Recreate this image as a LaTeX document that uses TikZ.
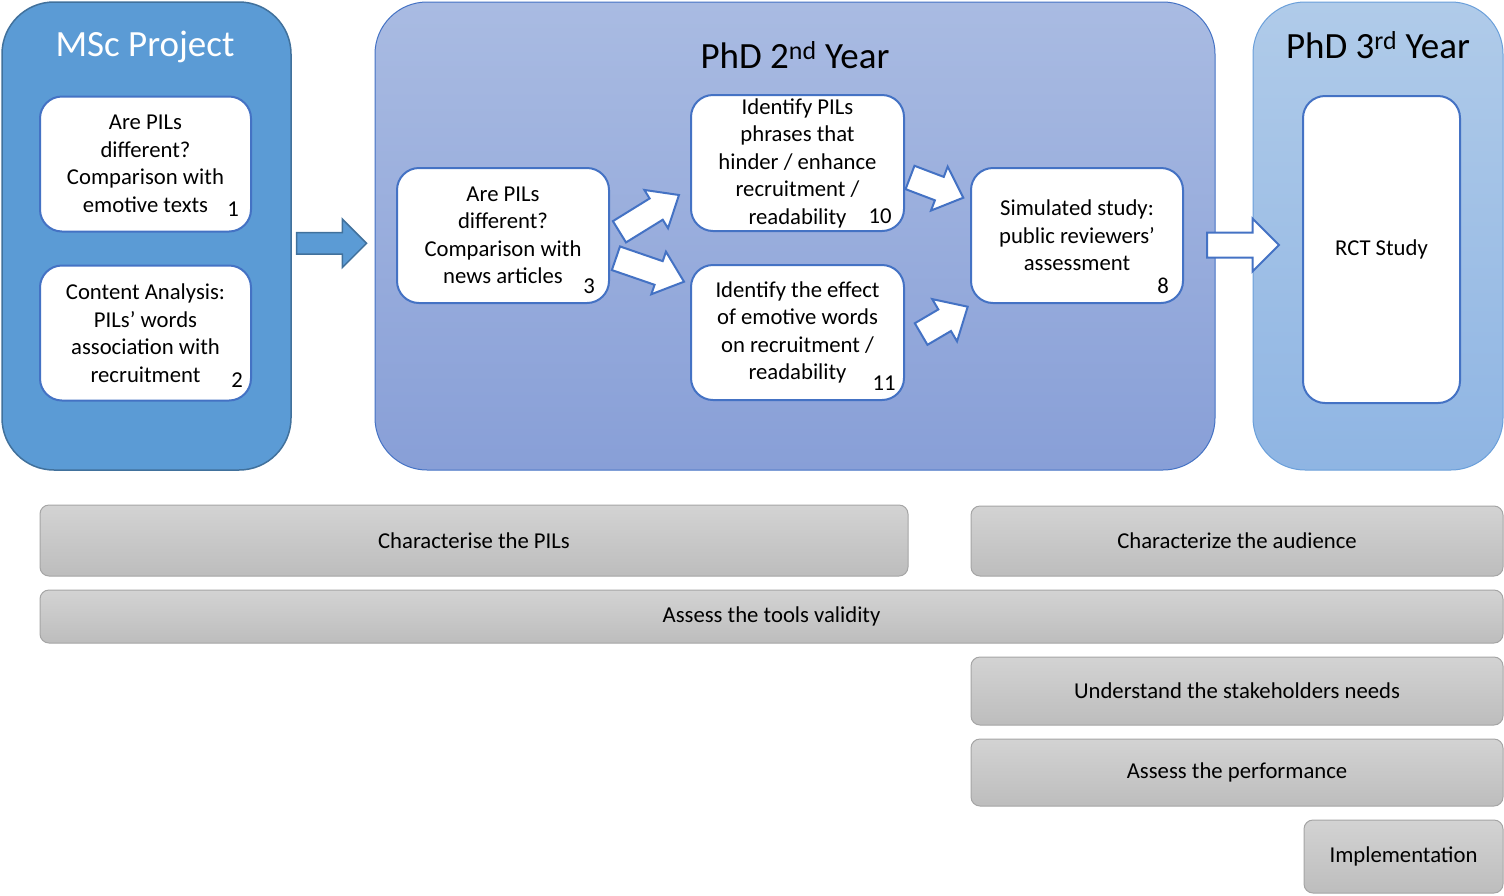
\documentclass[tikz,border=0pt]{standalone}
\usepackage{fontspec}
\setmainfont{Carlito}
\usepackage{xcolor}
\usetikzlibrary{shapes.arrows,positioning}

\definecolor{mscfill}{HTML}{5B9BD5}
\definecolor{mscline}{HTML}{41719C}
\definecolor{boxline}{HTML}{4472C4}
\definecolor{phdtop}{HTML}{A9BBE2}
\definecolor{phdbot}{HTML}{889FD7}
\definecolor{rcttop}{HTML}{B0CBE9}
\definecolor{rctbot}{HTML}{8FB5E3}
\definecolor{rctline}{HTML}{6A9FDA}
\definecolor{goaltop}{HTML}{D3D3D3}
\definecolor{goalbot}{HTML}{BDBDBD}
\definecolor{goalline}{HTML}{A5A5A5}

\begin{document}
\begin{tikzpicture}[
  x=1pt, y=1pt,
  font=\fontsize{22.7}{27.5}\selectfont,
  phase/.style={rounded corners=52pt, line width=1.5pt, inner sep=0pt, outer sep=0pt},
  task/.style={rounded corners=22pt, draw=boxline, fill=white, line width=2pt, align=center, inner sep=0pt, minimum width=211pt, minimum height=135pt},
  num/.style={inner sep=0pt},
  ttl/.style={font=\fontsize{37}{44}\selectfont, inner sep=0pt},
  goal/.style={rounded corners=9pt, draw=goalline, line width=1pt, top color=goaltop, bottom color=goalbot, inner sep=0pt, minimum height=#1},
  fat/.style={single arrow, draw=mscline, fill=mscfill, line width=1.5pt, inner sep=0pt, outer sep=0pt},
  wfat/.style={single arrow, draw=boxline, fill=white, line width=2pt, inner sep=0pt, outer sep=0pt},
]
\useasboundingbox (0,0) rectangle (1504,-895);

% MSc project
\node[phase, draw=mscline, fill=mscfill, minimum width=289pt, minimum height=468pt] (msc) at (146.5,-236) {};
\node[ttl, text=white] (msct) at (145,-47) {MSc Project};
\node[task] (t1) at (145.5,-164) {Are PILs\\different?\\Comparison with\\emotive texts};
\node[num] (n1) at (233,-209) {1};
\node[task] (t2) at (145.5,-333) {Content Analysis:\\PILs’ words\\association with\\recruitment};
\node[num] (n2) at (237,-380) {2};

% PhD 2nd year
\node[phase, draw=boxline, line width=1pt, top color=phdtop, bottom color=phdbot, minimum width=840pt, minimum height=468pt] (phd2) at (795,-236) {};
\node[ttl] (phd2t) at (795,-55) {PhD 2\textsuperscript{nd} Year};
\node[task, minimum width=212pt] (t3) at (503,-235.5) {Are PILs\\different?\\Comparison with\\news articles};
\node[num] (n3) at (589,-286) {3};
\node[task, minimum width=213pt, minimum height=136pt] (t10) at (797.5,-163) {Identify PILs\\phrases that\\hinder / enhance\\recruitment /\\readability};
\node[num] (n10) at (880,-216) {10};
\node[task, minimum width=213pt] (t11) at (797.5,-332.5) {Identify the effect\\of emotive words\\on recruitment /\\readability};
\node[num] (n11) at (884,-383) {11};
\node[task, minimum width=212pt] (t8) at (1077,-235.5) {Simulated study:\\public reviewers’\\assessment};
\node[num] (n8) at (1163,-286) {8};

% PhD 3rd year
\node[phase, draw=rctline, line width=1pt, top color=rcttop, bottom color=rctbot, minimum width=250pt, minimum height=468pt] (phd3) at (1378,-236) {};
\node[ttl] (phd3t) at (1378,-45) {PhD 3\textsuperscript{rd} Year};
\node[task, minimum width=157pt, minimum height=307pt] (rct) at (1381.5,-249.5) {RCT Study};

% block arrows
\node[fat, minimum height=70pt, single arrow head extend=13.5pt, inner ysep=10pt, anchor=tip] (ar1) at (366.5,-243.3) {};
\node[wfat, minimum height=70pt, single arrow head extend=10pt, inner ysep=11.5pt, single arrow tip angle=80, rotate=31.7, anchor=tip] (ar2) at (679,-195) {};
\node[wfat, minimum height=72pt, single arrow head extend=10pt, inner ysep=11.5pt, single arrow tip angle=80, rotate=-19, anchor=tip] (ar3) at (684,-281.7) {};
\node[wfat, minimum height=57pt, single arrow head extend=11pt, inner ysep=11.5pt, single arrow tip angle=85, rotate=-20.8, anchor=tip] (ar4) at (963.3,-197.7) {};
\node[wfat, minimum height=54pt, single arrow head extend=12pt, inner ysep=11.5pt, single arrow tip angle=85, rotate=30.4, anchor=tip] (ar5) at (967.7,-306.7) {};
\node[wfat, minimum height=72pt, single arrow head extend=14pt, inner ysep=11.5pt, anchor=tip] (ar6) at (1279,-245) {};

% aims
\node[goal=71pt, minimum width=868pt] (g1) at (474,-540.5) {Characterise the PILs};
\node[goal=70pt, minimum width=532pt] (g2) at (1237,-541) {Characterize the audience};
\node[goal=53pt, minimum width=1463pt] (g3) at (771.5,-616.5) {Assess the tools validity};
\node[goal=68pt, minimum width=532pt] (g4) at (1237,-691) {Understand the stakeholders needs};
\node[goal=67pt, minimum width=532pt] (g5) at (1237,-772.5) {Assess the performance};
\node[goal=73pt, minimum width=199pt] (g6) at (1403.5,-856.5) {Implementation};

\end{tikzpicture}
\end{document}
